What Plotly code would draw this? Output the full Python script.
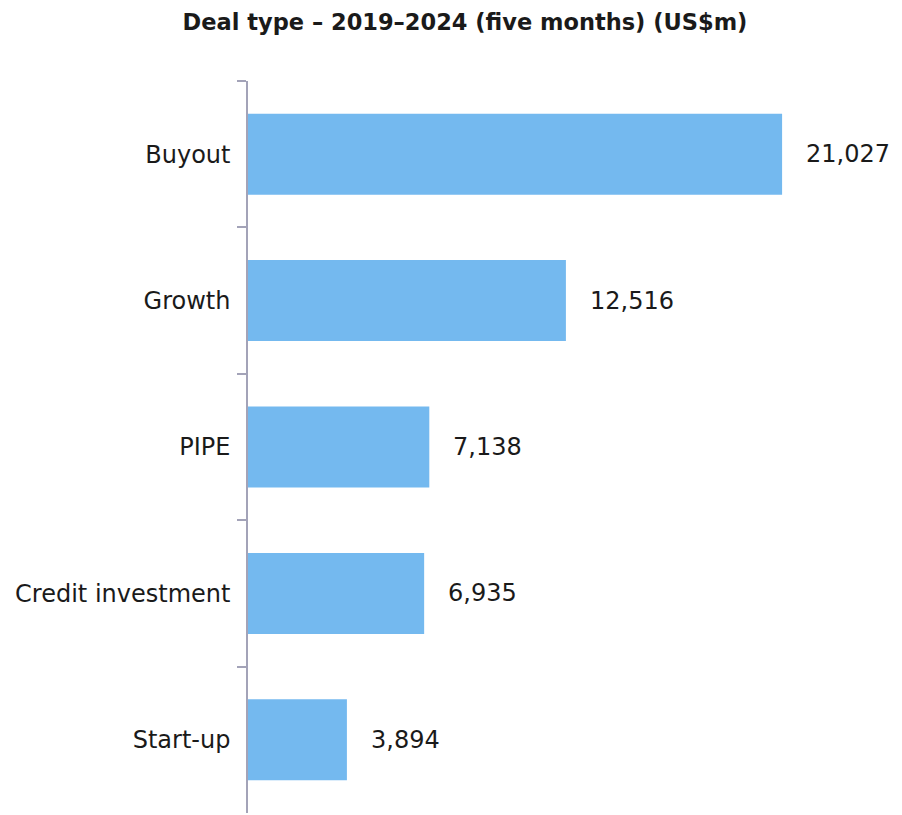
import plotly.graph_objects as go

categories = ["Buyout", "Growth", "PIPE", "Credit investment", "Start-up"]
values = [21027, 12516, 7138, 6935, 3894]
value_labels = ["21,027", "12,516", "7,138", "6,935", "3,894"]
title_text = "Deal type – 2019–2024 (five months) (US$m)"

BAR_COLOR = "#74b9ef"
AXIS_COLOR = "#a3a3b8"
FONT = "DejaVu Sans"

# the page has an 8px body margin, so the figure is drawn 8px smaller
W, H = 894, 807

fig = go.Figure()
fig.add_trace(go.Bar(
    x=values, y=categories, orientation="h",
    marker=dict(color=BAR_COLOR, line=dict(width=0)),
    hoverinfo="skip",
))

for cat, val, lab in zip(categories, values, value_labels):
    fig.add_annotation(
        x=val, y=cat, xref="x", yref="y", text=lab, showarrow=False,
        xanchor="left", yanchor="middle", xshift=22,
        font=dict(family=FONT, size=24, color="#1a1a1a"),
    )

fig.update_layout(
    width=W, height=H,
    margin=dict(l=240, r=19, t=73, b=2),
    paper_bgcolor="white", plot_bgcolor="white",
    bargap=0.447,
    showlegend=False,
    title=dict(
        text="<b>" + title_text + "</b>",
        x=457 / W, xref="container", xanchor="center",
        y=1 - 14 / H, yref="container", yanchor="middle",
        font=dict(family=FONT, size=22.5, color="#1a1a1a"),
    ),
    xaxis=dict(
        range=[0, 25000], visible=False, showgrid=False, zeroline=False,
    ),
    yaxis=dict(
        type="category", autorange="reversed",
        showline=True, linecolor=AXIS_COLOR, linewidth=1.5,
        ticks="outside", tickson="boundaries", ticklen=9,
        tickcolor=AXIS_COLOR, tickwidth=1.5,
        showgrid=False, zeroline=False,
        ticklabelstandoff=11,
        tickfont=dict(family=FONT, size=24, color="#1a1a1a"),
    ),
)

fig.write_html("out.html")
